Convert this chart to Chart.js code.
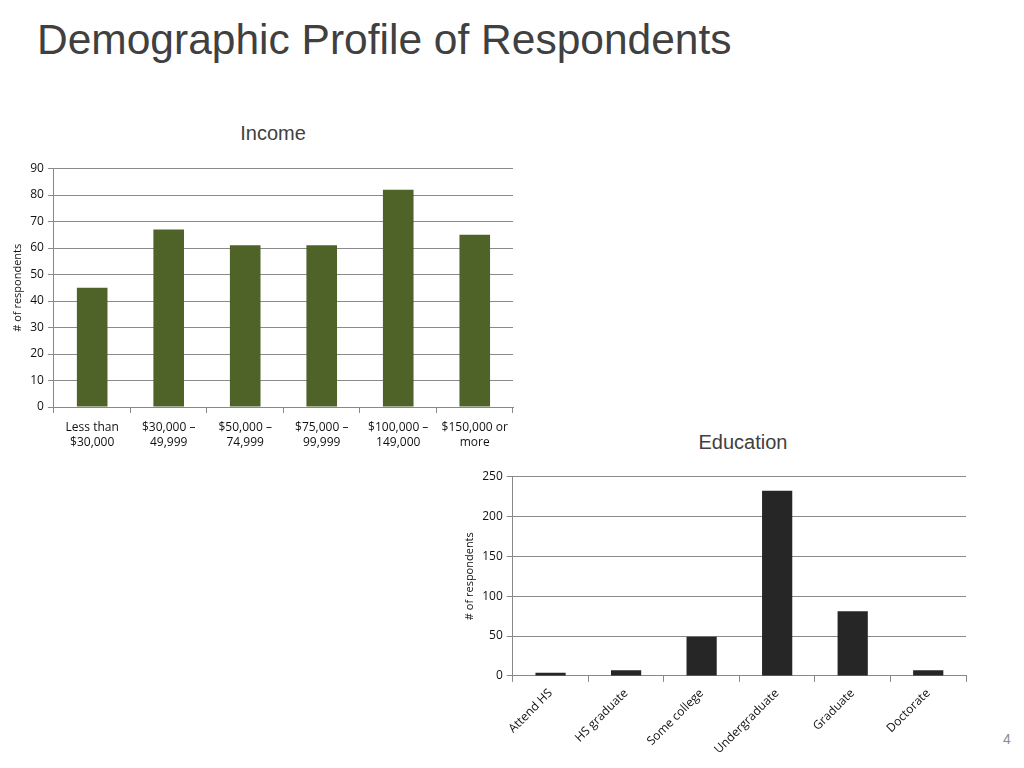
<!DOCTYPE html>
<html>
<head>
<meta charset="utf-8">
<script src="https://cdn.jsdelivr.net/npm/chart.js@4"></script>
<style>
  body { margin: 0; background: #fff; width: 1024px; height: 768px; position: relative; overflow: hidden; }
  h1 { position: absolute; left: 37px; top: 19px; margin: 0; font-family: 'Liberation Sans', Arial, sans-serif; font-weight: normal; font-size: 42.5px; line-height: 1; color: #404040; }
  .title { position: absolute; font-family: 'Liberation Sans', Arial, sans-serif; font-size: 20px; color: #404040; transform: translateX(-50%); white-space: nowrap; }
  .box { position: absolute; }
  #page { position: absolute; left: 1003px; top: 731px; font-family: 'Liberation Sans', Arial, sans-serif; font-size: 14px; color: #8c8c8c; }
</style>
</head>
<body>
<h1>Demographic Profile of Respondents</h1>
<div class="title" style="left:273px; top:122px;">Income</div>
<div class="title" style="left:743px; top:431px;">Education</div>
<div class="box" style="left:5px; top:157px; width:515px; height:300px;"><canvas id="income"></canvas></div>
<div class="box" style="left:455px; top:465px; width:518px; height:300px;"><canvas id="education"></canvas></div>
<div id="page">4</div>
<script>
// --- DATOS ---
const incomeLabels = [['Less than', '$30,000'], ['$30,000 –', '49,999'], ['$50,000 –', '74,999'], ['$75,000 –', '99,999'], ['$100,000 –', '149,000'], ['$150,000 or', 'more']]
const incomeValues = [45, 67, 61, 61, 82, 65]
const incomeTicks = { min: 0, max: 90, step: 10 }

const educationLabels = ['Attend HS', 'HS graduate', 'Some college', 'Undergraduate', 'Graduate', 'Doctorate']
const educationValues = [4, 7, 49, 232, 81, 7]
const educationTicks = { min: 0, max: 250, step: 50 }

const tickFont = { family: "'Open Sans', 'Noto Sans', sans-serif", size: 12, lineHeight: 1.25 }
const axisTitleFont = { family: "'Open Sans', 'Noto Sans', sans-serif", size: 11 }

function makeChart(id, labels, values, ticks, color, rotate, padding, xPad) {
  const ctx = document.getElementById(id).getContext('2d')
  return new Chart(ctx, {
    type: 'bar',
    data: {
      labels: labels,
      datasets: [{
        data: values,
        backgroundColor: color,
        borderWidth: 0,
        barPercentage: 0.4,
        categoryPercentage: 1.0
      }]
    },
    options: {
      responsive: true,
      maintainAspectRatio: false,
      animation: false,
      layout: { padding: padding },
      plugins: {
        legend: { display: false },
        tooltip: { enabled: false }
      },
      scales: {
        x: {
          grid: { offset: true, drawOnChartArea: false, color: '#888', tickLength: 6 },
          border: { color: '#888' },
          ticks: {
            color: '#111',
            font: tickFont,
            padding: xPad,
            autoSkip: false,
            maxRotation: rotate ? 45 : 0,
            minRotation: rotate ? 45 : 0
          }
        },
        y: {
          min: ticks.min,
          max: ticks.max,
          grid: { color: '#8a8a8a', tickLength: 6 },
          border: { color: '#888' },
          ticks: { stepSize: ticks.step, color: '#111', font: tickFont, padding: 4 },
          title: { display: true, text: '# of respondents', color: '#111', font: axisTitleFont, padding: 2 }
        }
      }
    }
  })
}

makeChart('income', incomeLabels, incomeValues, incomeTicks, '#4f6228', false, { left: 4, right: 7, top: 5, bottom: 0 }, 7)
makeChart('education', educationLabels, educationValues, educationTicks, '#262626', true, { left: 6, right: 7, top: 5, bottom: 4 }, 4)
</script>
</body>
</html>
